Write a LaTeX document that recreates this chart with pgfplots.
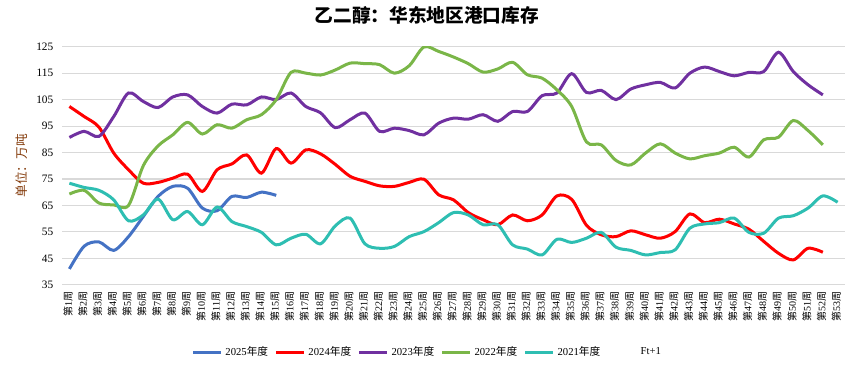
\documentclass[border=0pt]{standalone}
\usepackage{fontspec}
\setmainfont{Liberation Serif}
\newfontfamily\cjk{Noto Sans CJK SC}
\usepackage{pgfplots}
\usepackage{pgfplotstable}
\pgfplotsset{compat=1.18}
\definecolor{c25}{RGB}{68,114,196}
\definecolor{c24}{RGB}{255,0,0}
\definecolor{c23}{RGB}{112,48,160}
\definecolor{c22}{RGB}{122,182,72}
\definecolor{c21}{RGB}{46,190,178}
\definecolor{gridc}{RGB}{217,217,217}
\definecolor{ylab}{RGB}{132,60,12}

\pgfplotstableread{
w v
1 41
2 49.6
3 51.2
4 48
5 53.2
6 60.8
7 68.4
8 72.2
9 71.5
10 64
11 63
12 68.4
13 68
14 70
15 68.8
}\yrA

\pgfplotstableread{
w v
1 102.4
2 98.6
3 94.6
4 84.8
5 78.5
6 73.4
7 73.7
8 75.3
9 76.8
10 70.3
11 78.5
12 80.7
13 84.1
14 77.2
15 86.5
16 81
17 86
18 84.5
19 80.5
20 76
21 74.1
22 72.4
23 72.2
24 73.7
25 74.9
26 69
27 67.1
28 62.3
29 59.6
30 57.7
31 61.4
32 59.2
33 61.4
34 68.6
35 67.3
36 57.5
37 53.9
38 53.2
39 55.4
40 53.9
41 52.6
42 55.1
43 61.8
44 58.5
45 59.8
46 58
47 56
48 51.4
49 46.9
50 44.4
51 48.8
52 47.3
}\yrB

\pgfplotstableread{
w v
1 90.7
2 93
3 91.1
4 98.6
5 107.5
6 104.3
7 102
8 106
9 106.8
10 102.4
11 99.9
12 103.3
13 103
14 106
15 105
16 107.5
17 102.4
18 100
19 94.4
20 97.4
21 99.9
22 93
23 94.2
24 93.3
25 91.7
26 96.1
27 98
28 97.6
29 99.3
30 96.8
31 100.5
32 100.5
33 106.5
34 107.5
35 114.8
36 107.7
37 108.5
38 105
39 109
40 110.6
41 111.5
42 109.4
43 115
44 117.3
45 115.6
46 114
47 115.3
48 115.6
49 122.9
50 115.6
51 110.6
52 106.8
}\yrC

\pgfplotstableread{
w v
1 69.3
2 70.7
3 65.9
4 65.2
5 65
6 80
7 87.5
8 91.7
9 96.4
10 92
11 95.5
12 94.2
13 97.4
14 99.3
15 105
16 115.3
17 115
18 114.3
19 116.2
20 118.8
21 118.6
22 118.2
23 115
24 117.8
25 124.9
26 123.2
27 121.1
28 118.6
29 115.4
30 116.6
31 119.1
32 114.4
33 113.1
34 108.7
35 102.4
36 89
37 87.9
38 82
39 80.3
40 84.8
41 88.3
42 84.8
43 82.6
44 83.8
45 84.8
46 87
47 83.3
48 89.8
49 90.8
50 97.1
51 93.3
52 87.9
}\yrD

\pgfplotstableread{
w v
1 73.4
2 71.8
3 70.7
4 67.1
5 59.2
6 61.4
7 67.4
8 59.6
9 62.7
10 57.7
11 64.4
12 58.9
13 57
14 54.8
15 50.1
16 52.6
17 54.1
18 50.5
19 57.3
20 60.2
21 50.5
22 48.8
23 49.5
24 53.2
25 55.1
26 58.5
27 62.3
28 61.4
29 57.7
30 57.7
31 50.1
32 48.5
33 46.3
34 52.2
35 51
36 52.6
37 54.8
38 49.2
39 48
40 46.3
41 47.2
42 48.2
43 56.4
44 58
45 58.5
46 60.2
47 54.8
48 54.5
49 60.2
50 61.1
51 64
52 68.6
53 66.2
}\yrE

\begin{document}
\begin{tikzpicture}
\useasboundingbox (-46.5pt,-63.5pt) rectangle (593pt,213.5pt);
\begin{axis}[
  at={(0pt,0pt)}, anchor=south west,
  scale only axis, width=587pt, height=178.5pt,
  xmin=0.5, xmax=53.5, ymin=35, ymax=125,
  ytick={35,45,...,125},
  xtick={1,...,53},
  /pgf/number format/assume math mode=true,
  xticklabel={{\cjk 第}\pgfmathprintnumber{\tick}{\cjk 周}},
  xticklabel style={rotate=90, anchor=east, font=\fontsize{7.5}{8}\selectfont, inner sep=1pt, xshift=-4pt, yshift=1pt},
  yticklabel style={font=\fontsize{8.5}{10}\selectfont, xshift=-3pt},
  major tick length=0pt,
  axis line style={draw=none},
  ymajorgrids, grid style={gridc, line width=0.8pt},
  ylabel={\cjk 单位：万吨},
  ylabel style={at={(axis description cs:0,0.5)}, anchor=center, yshift=30pt, text=ylab, font=\fontsize{9.5}{10}\selectfont},
  title={\cjk\bfseries 乙二醇：华东地区港口库存},
  title style={at={(axis description cs:0.466,1.10)}, anchor=center, font=\fontsize{14}{16}\selectfont},
  legend columns=6,
  legend style={at={(axis description cs:0.467,-0.283)}, anchor=center, draw=none, fill=none,
    font=\fontsize{8}{10}\selectfont,
    /tikz/every even column/.append style={column sep=3pt}},
  legend image code/.code={\draw[#1] (0pt,0pt) -- (21pt,0pt);},
  every axis plot/.append style={line width=2.25pt, smooth, no markers},
]
\addplot[c25] table[x=w,y=v] {\yrA};
\addlegendentry{2025{\cjk 年度}}
\addplot[c24] table[x=w,y=v] {\yrB};
\addlegendentry{2024{\cjk 年度}}
\addplot[c23] table[x=w,y=v] {\yrC};
\addlegendentry{2023{\cjk 年度}}
\addplot[c22] table[x=w,y=v] {\yrD};
\addlegendentry{2022{\cjk 年度}}
\addplot[c21] table[x=w,y=v] {\yrE};
\addlegendentry{2021{\cjk 年度}}
\addlegendimage{white}
\addlegendentry{Ft+1}
\end{axis}
\end{tikzpicture}
\end{document}
